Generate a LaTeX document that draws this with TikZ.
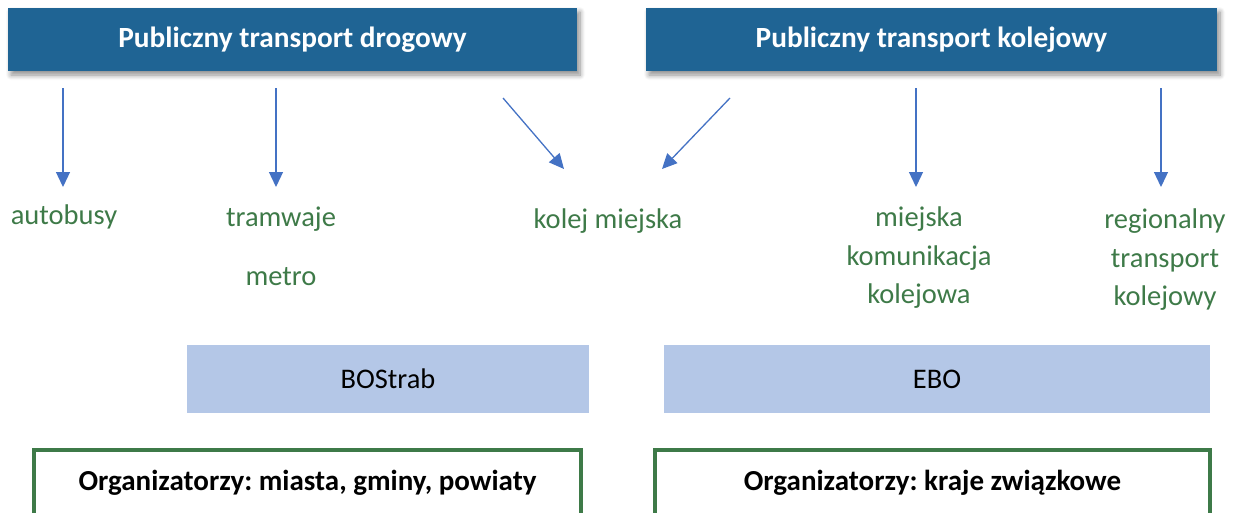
\documentclass[tikz,border=0pt]{standalone}
\usepackage{fontspec}
\setmainfont{Carlito}
\usetikzlibrary{arrows.meta,shadows.blur}
\definecolor{headblue}{HTML}{1F6494}
\definecolor{arrowblue}{HTML}{4472C4}
\definecolor{itemgreen}{HTML}{3E7A48}
\definecolor{normfill}{HTML}{B4C7E7}
\frenchspacing
\tikzset{
  header/.style={rectangle, fill=headblue, text=white, inner sep=0pt,
    font=\fontsize{29.3}{35}\selectfont\bfseries,
    blur shadow={shadow xshift=3pt, shadow yshift=-4pt, shadow blur steps=8, shadow blur radius=5pt, shadow opacity=45}},
  item/.style={text=itemgreen, align=center, inner sep=0pt,
    font=\fontsize{28.5}{38.5}\selectfont},
  norm/.style={rectangle, fill=normfill, inner sep=0pt,
    font=\fontsize{28.4}{34}\selectfont},
  organizer/.style={rectangle, draw=itemgreen, line width=4pt, fill=white, inner sep=0pt,
    font=\fontsize{29}{35}\selectfont\bfseries},
  link/.style={arrowblue, line width=1.3pt, -{Triangle[length=15pt,width=14pt]}}
}
\begin{document}
\begin{tikzpicture}[x=1pt,y=-1pt]
\useasboundingbox (0,0) rectangle (1243,512);
\clip (0,0) rectangle (1243,512);

% headers
\node[header, minimum width=569pt, minimum height=63pt] (road) at (292.5,39.5) {Publiczny transport drogowy};
\node[header, minimum width=571pt, minimum height=63pt] (rail) at (931.5,39.5) {Publiczny transport kolejowy};

% kinds of transport
\node[item] (bus) at (64,217) {autobusy};
\node[item] (tram) at (281,219) {tramwaje};
\node[item] (metro) at (281,277) {metro};
\node[item] (city) at (608,221) {kolej miejska};
\node[item] (urban) at (919,258) {miejska\\komunikacja\\kolejowa};
\node[item] (regio) at (1165,260) {regionalny\\transport\\kolejowy};

% arrow ends
\coordinate (s1) at (63,88);    \coordinate (e1) at (63,187);
\coordinate (s2) at (276,88);   \coordinate (e2) at (276,187);
\coordinate (s3) at (503,98);   \coordinate (e3) at (564,169);
\coordinate (s4) at (730,98);   \coordinate (e4) at (662,169);
\coordinate (s5) at (916,88);   \coordinate (e5) at (916,187);
\coordinate (s6) at (1161,88);  \coordinate (e6) at (1161,187);
\draw[link] (s1) -- (e1);
\draw[link] (s2) -- (e2);
\draw[link] (s3) -- (e3);
\draw[link] (s4) -- (e4);
\draw[link] (s5) -- (e5);
\draw[link] (s6) -- (e6);

% regulations
\node[norm, minimum width=402pt, minimum height=68pt] (bostrab) at (388,379) {BOStrab};
\node[norm, minimum width=546pt, minimum height=68pt] (ebo) at (937,379) {EBO};

% organisers (their lower edge runs past the page)
\node[organizer, minimum width=547pt, minimum height=72pt] (org1) at (307.5,486) {\raisebox{12pt}{Organizatorzy: miasta, gminy, powiaty}};
\node[organizer, minimum width=555pt, minimum height=72pt] (org2) at (932.5,486) {\raisebox{12pt}{Organizatorzy: kraje związkowe}};
\end{tikzpicture}
\end{document}
